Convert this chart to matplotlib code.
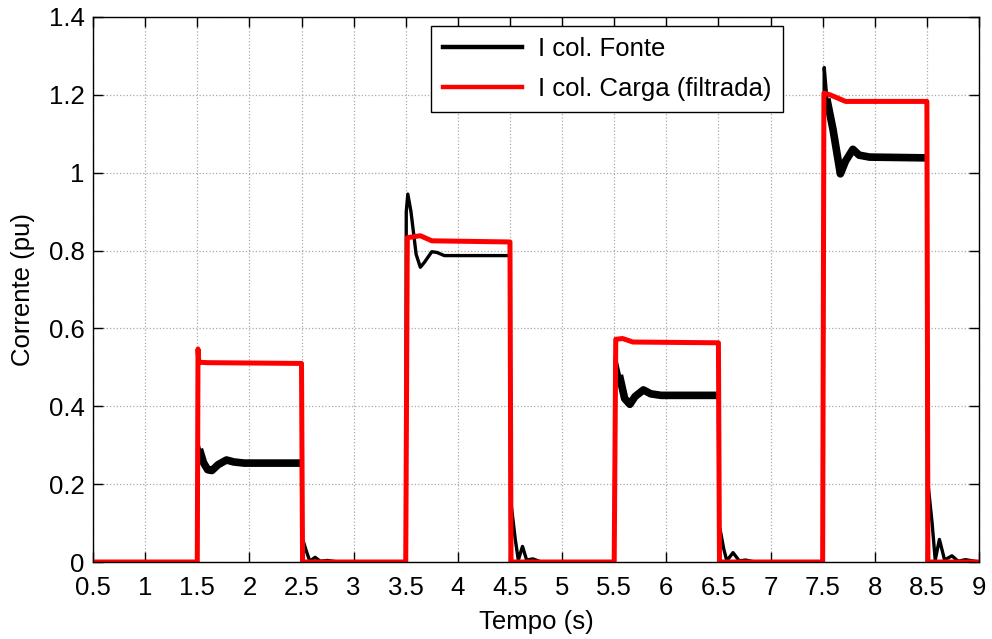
import matplotlib
matplotlib.use("Agg")
import matplotlib.pyplot as plt
import numpy as np

plt.rcParams['font.family'] = ['Liberation Sans', 'DejaVu Sans']

# I col. Fonte (black)
t_fonte = [0.5, 1.5,
           1.505, 1.52, 1.56, 1.6, 1.64, 1.7, 1.78, 1.85, 1.95, 2.5,
           2.505, 2.515, 2.55, 2.58, 2.63, 2.68, 2.75, 2.85, 3.5,
           3.505, 3.52, 3.55, 3.6, 3.64, 3.68, 3.75, 3.8, 3.87, 4.5,
           4.505, 4.515, 4.55, 4.58, 4.62, 4.66, 4.72, 4.8, 5.5,
           5.51, 5.55, 5.6, 5.65, 5.7, 5.78, 5.85, 5.95, 6.5,
           6.505, 6.515, 6.55, 6.58, 6.64, 6.7, 6.76, 6.85, 7.5,
           7.515, 7.54, 7.6, 7.67, 7.72, 7.79, 7.85, 7.95, 8.5,
           8.505, 8.515, 8.55, 8.58, 8.62, 8.67, 8.74, 8.8, 8.87, 9.0]
i_fonte = [0.0, 0.0,
           0.305, 0.29, 0.255, 0.237, 0.235, 0.25, 0.262, 0.257, 0.254, 0.254,
           0.0, 0.055, 0.025, 0.002, 0.012, 0.002, 0.004, 0.0, 0.0,
           0.90, 0.945, 0.90, 0.79, 0.757, 0.77, 0.797, 0.795, 0.787, 0.787,
           0.0, 0.14, 0.06, 0.005, 0.04, 0.005, 0.008, 0.0, 0.0,
           0.527, 0.48, 0.42, 0.405, 0.425, 0.442, 0.432, 0.428, 0.428,
           0.0, 0.085, 0.035, 0.003, 0.024, 0.003, 0.005, 0.0, 0.0,
           1.27, 1.19, 1.11, 0.997, 1.03, 1.06, 1.045, 1.04, 1.038,
           0.0, 0.19, 0.10, 0.005, 0.058, 0.005, 0.016, 0.002, 0.006, 0.0]

# I col. Carga (filtrada) (red)
t_carga = [0.5, 1.5, 1.507, 1.515, 1.6, 2.5, 2.51,
           3.5, 3.515, 3.64, 3.75, 4.5, 4.51,
           5.5, 5.515, 5.58, 5.68, 6.5, 6.51,
           7.5, 7.512, 7.57, 7.72, 8.5, 8.51, 9.0]
i_carga = [0.0, 0.0, 0.547, 0.513, 0.512, 0.51, 0.0,
           0.0, 0.833, 0.838, 0.825, 0.822, 0.0,
           0.0, 0.572, 0.574, 0.565, 0.563, 0.0,
           0.0, 1.204, 1.20, 1.183, 1.183, 0.0, 0.0]

# stretches where the black trace shows ripple (drawn thicker)
ripple = [(1.52, 2.5), (5.52, 6.5), (7.53, 8.5)]

xticks = np.arange(0.5, 9.01, 0.5)
xlabels = ['0.5', '1', '1.5', '2', '2.5', '3', '3.5', '4', '4.5', '5',
           '5.5', '6', '6.5', '7', '7.5', '8', '8.5', '9']
yticks = np.arange(0, 1.41, 0.2)
ylabels = ['0', '0.2', '0.4', '0.6', '0.8', '1', '1.2', '1.4']

fs = 18.5
fig = plt.figure(figsize=(9.92, 6.39), dpi=100)
ax = fig.add_axes([0.0938, 0.1205, 0.8931, 0.8530])

tf = np.array(t_fonte)
vf = np.array(i_fonte)
ax.plot(tf, vf, color='black', lw=2.4, label='I col. Fonte')
for a, b in ripple:
    m = (tf >= a) & (tf <= b)
    ax.plot(tf[m], vf[m], color='black', lw=5.5, solid_capstyle='butt')
ax.plot(t_carga, i_carga, color='#ff0000', lw=3.6, label='I col. Carga (filtrada)')

ax.set_xlim(0.5, 9)
ax.set_ylim(0, 1.4)
ax.set_xticks(xticks)
ax.set_xticklabels(xlabels)
ax.set_yticks(yticks)
ax.set_yticklabels(ylabels)
ax.tick_params(direction='in', length=7, width=1, top=True, right=True,
               labelsize=fs)
ax.tick_params(axis='x', pad=10)
ax.tick_params(axis='y', pad=6)
ax.grid(True, linestyle=':', color='#aaaaaa', lw=0.9)
for s in ax.spines.values():
    s.set_linewidth(1)

ax.set_xlabel('Tempo (s)', fontsize=fs, labelpad=7)
ax.set_ylabel('Corrente (pu)', fontsize=fs, labelpad=10)

leg = ax.legend(loc='upper left', bbox_to_anchor=(0.3815, 0.9835),
                borderaxespad=0, fontsize=fs, handlelength=3.1,
                fancybox=False, framealpha=1, edgecolor='black',
                borderpad=0.45, labelspacing=0.6, handletextpad=0.6)
leg.get_frame().set_linewidth(1)
for h in leg.get_lines():
    h.set_linewidth(3.2)

fig.savefig('out.png', dpi=100)
